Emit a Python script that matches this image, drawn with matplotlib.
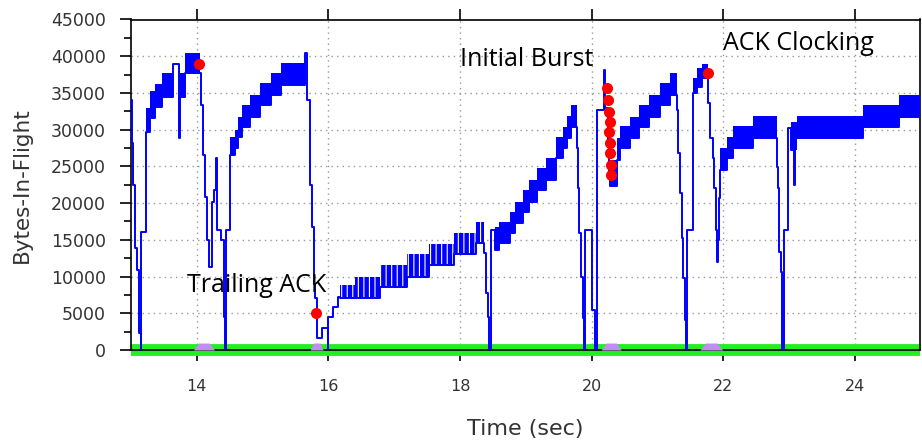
import matplotlib.pyplot as plt
from matplotlib.ticker import MultipleLocator

plt.rcParams["font.family"] = ["DejaVu Sans"]
plt.rcParams["hatch.linewidth"] = 0.8

# thin bytes-in-flight trace (time in sec, bytes), drawn as post steps
trace_t = [13.000, 13.012, 13.030, 13.060, 13.090, 13.120, 13.150, 13.157, 13.223,
           13.289, 13.365, 13.466, 13.643, 13.735, 13.750, 13.820, 14.048,
           14.065, 14.090, 14.130, 14.160, 14.190, 14.235, 14.265, 14.285, 14.305,
           14.360, 14.410, 14.428, 14.440, 14.504, 14.580, 14.620, 14.690, 14.810,
           14.960, 15.125, 15.286, 15.640, 15.670, 15.720, 15.745, 15.780, 15.800,
           15.820, 15.897, 15.990, 16.000, 16.073, 16.150, 16.175, 16.780, 17.190,
           17.520, 17.910, 18.240, 18.360, 18.390, 18.420, 18.443, 18.464, 18.530,
           18.595, 18.760, 18.830, 18.950, 19.050, 19.170, 19.300, 19.450, 19.567,
           19.630, 19.690, 19.780, 19.795, 19.810, 19.830, 19.860, 19.880, 19.896,
           19.997, 20.010, 20.050, 20.074, 20.185, 20.200, 20.240, 20.260, 20.276,
           20.378, 20.428, 20.580, 20.720, 20.870, 21.036, 21.190, 21.300, 21.310,
           21.340, 21.365, 21.390, 21.415, 21.430, 21.440, 21.540, 21.593, 21.670,
           21.770, 21.790, 21.840, 21.855, 21.880, 21.905, 21.920, 21.930, 21.950,
           22.060, 22.150, 22.450, 22.810, 22.835, 22.850, 22.875, 22.895, 22.920,
           22.985, 23.020, 23.050, 23.070, 23.090, 24.120, 24.660, 25.000]
trace_v = [34000, 28200, 22500, 13900, 10900, 2300, 0, 16100, 29700,
           31550, 33100, 34500, 38950, 28900, 34500, 37700, 37700,
           33370, 26560, 20880, 15000, 11350, 20200, 21800, 26100, 16340,
           15000, 4540, 0, 16300, 26560, 27470, 29050, 30400, 31780,
           33370, 34730, 36090, 40500, 34050, 22470, 16800, 9000, 7040,
           1590, 2950, 0, 4450, 5900, 7260, 7040, 8620, 9980,
           11580, 13070, 14530, 13200, 7760, 4540, 0, 16340, 13620,
           14530, 15890, 17260, 18840, 20200, 21790, 23150, 26200, 27470,
           28830, 30400, 27470, 22020, 15890, 9980, 4310, 0, 16340,
           10900, 5450, 0, 32700, 38130, 33000, 28000, 24000, 22340,
           25880, 27470, 28830, 30400, 31780, 33370, 34730, 32700, 26790,
           21340, 15210, 9760, 4090, 0, 16340, 34960, 35860, 37000,
           33600, 28830, 26100, 22020, 16340, 12030, 15000, 20660, 24520,
           26100, 27470, 28830, 24970, 22020, 13390, 10660, 0, 16340,
           30190, 27240, 30000, 22470, 28830, 30400, 31780, 31780]

# solid window bands: start, end, low, high
band_t0 = [13.223, 13.289, 13.365, 13.466, 13.750, 13.820,
           14.504, 14.580, 14.620, 14.690, 14.810, 14.960, 15.125, 15.286,
           18.530, 18.595, 18.760, 18.830, 18.950, 19.050, 19.170, 19.300,
           19.450, 19.567, 19.630, 19.690,
           20.276, 20.378, 20.428, 20.580, 20.720, 20.870, 21.036, 21.190,
           21.540, 21.593, 21.670,
           21.950, 22.060, 22.150, 22.450,
           23.020, 23.110, 24.120, 24.660]
band_t1 = [13.289, 13.365, 13.466, 13.643, 13.820, 14.048,
           14.580, 14.620, 14.690, 14.810, 14.960, 15.125, 15.286, 15.640,
           18.595, 18.760, 18.830, 18.950, 19.050, 19.170, 19.300, 19.450,
           19.567, 19.630, 19.690, 19.780,
           20.378, 20.428, 20.580, 20.720, 20.870, 21.036, 21.190, 21.300,
           21.593, 21.670, 21.770,
           22.060, 22.150, 22.450, 22.810,
           23.110, 24.120, 24.660, 25.000]
band_lo = [29700, 31550, 33100, 34500, 34500, 37700,
           26560, 27470, 29050, 30400, 31780, 33370, 34730, 36090,
           13620, 14530, 15890, 17260, 18840, 20200, 21790, 23150,
           26200, 27470, 28830, 30400,
           22340, 25880, 27470, 28830, 30400, 31780, 33370, 34730,
           34960, 35860, 37000,
           24520, 26100, 27470, 28830,
           27240, 28830, 30400, 31780]
band_hi = [32900, 35200, 36200, 37700, 37700, 40500,
           29050, 29960, 31780, 33370, 34730, 36320, 37680, 39050,
           16800, 17470, 18840, 20200, 21790, 23150, 24750, 26200,
           29050, 30400, 31870, 33370,
           25880, 28830, 30500, 31780, 33370, 34730, 36320, 37680,
           37000, 38370, 38950,
           27470, 29050, 30510, 31870,
           31000, 31870, 33370, 34730]

# "comb" bands in the slow-start stretch
comb_t0 = [16.175, 16.400, 16.780, 17.190, 17.520, 17.910, 18.240]
comb_t1 = [16.400, 16.780, 17.190, 17.520, 17.910, 18.240, 18.360]
comb_lo = [7040, 7040, 8620, 9980, 11580, 13070, 14530]
comb_hi = [8850, 9980, 11580, 13070, 14390, 15890, 17470]

# red event markers
dot_t = [14.04, 15.81, 20.235, 20.25, 20.266, 20.276, 20.266, 20.276, 20.276,
         20.287, 20.287, 21.76]
dot_v = [39000, 5000, 35640, 34050, 32460, 31100, 29730, 28150, 26790,
         25200, 23840, 37680]

# purple bumps on the time line
bump_start = [13.945, 15.72, 20.14, 21.64]
bump_end = [14.27, 15.92, 20.45, 21.99]
bump_h = 950

labels = ["Trailing ACK", "Initial Burst", "ACK Clocking"]
label_t = [13.85, 18.0, 21.99]
label_v = [8850, 39500, 41700]

BLUE = "#0000ff"

fig = plt.figure(figsize=(9.22, 4.41), dpi=100)
ax = fig.add_axes([131 / 922, 91 / 441, 789 / 922, 330.5 / 441])

ax.set_xlim(13.0, 24.985)
ax.set_ylim(0, 45000)

# green baseline and purple bumps
ax.plot([13.0, 24.985], [0, 0], color="#22ee22", lw=8.5, clip_on=False,
        solid_capstyle="butt", zorder=2)
for s, e in zip(bump_start, bump_end):
    r = (e - s) * 0.25
    ax.fill_between([s, s + r, e - r, e], [0, bump_h, bump_h, 0],
                    color="#c48cf2", lw=0, zorder=3)

# bands
ax.bar(band_t0, [h - l for h, l in zip(band_hi, band_lo)],
       width=[b - a for a, b in zip(band_t0, band_t1)], bottom=band_lo,
       align="edge", color=BLUE, linewidth=0, zorder=4)
ax.bar(comb_t0, [h - l for h, l in zip(comb_hi, comb_lo)],
       width=[b - a for a, b in zip(comb_t0, comb_t1)], bottom=comb_lo,
       align="edge", color=BLUE, linewidth=0, zorder=4)
ax.bar(comb_t0, [h - l for h, l in zip(comb_hi, comb_lo)],
       width=[b - a for a, b in zip(comb_t0, comb_t1)], bottom=comb_lo,
       align="edge", facecolor="none", edgecolor="white", hatch="|||",
       linewidth=0, zorder=4)

ax.plot(trace_t, trace_v, drawstyle="steps-post", color=BLUE, lw=1.4, zorder=5)
ax.plot(dot_t, dot_v, "o", color="#ff0000", ms=8, mec="none", zorder=6)

for txt, t, v in zip(labels, label_t, label_v):
    ax.text(t, v, txt, ha="left", va="center", fontsize=18,
            family=["Open Sans", "DejaVu Sans"], color="black", zorder=7)

# axes styling
ax.xaxis.set_major_locator(MultipleLocator(2))
ax.yaxis.set_major_locator(MultipleLocator(5000))
ax.yaxis.set_minor_locator(MultipleLocator(2500))
ax.grid(True, which="major", color="#999999", linestyle=(0, (1, 3)), lw=1.0)
ax.set_axisbelow(True)
for sp in ax.spines.values():
    sp.set_color("black")
    sp.set_linewidth(1.2)
ax.tick_params(axis="x", which="major", direction="out", top=True, length=8,
               width=1.2, pad=13, labelsize=11.5, labelcolor="#333333")
ax.tick_params(axis="y", which="major", direction="out", length=8, width=1.2,
               pad=10, labelsize=12.5, labelcolor="#333333")
ax.tick_params(axis="y", which="minor", direction="out", length=5, width=1.2)
ax.set_xticks([14, 16, 18, 20, 22, 24])

ax.set_xlabel("Time (sec)", fontsize=16, color="#333333", labelpad=18)
ax.set_ylabel("Bytes-In-Flight", fontsize=15.5, color="#333333", labelpad=14)

fig.savefig("out.png", dpi=100)
